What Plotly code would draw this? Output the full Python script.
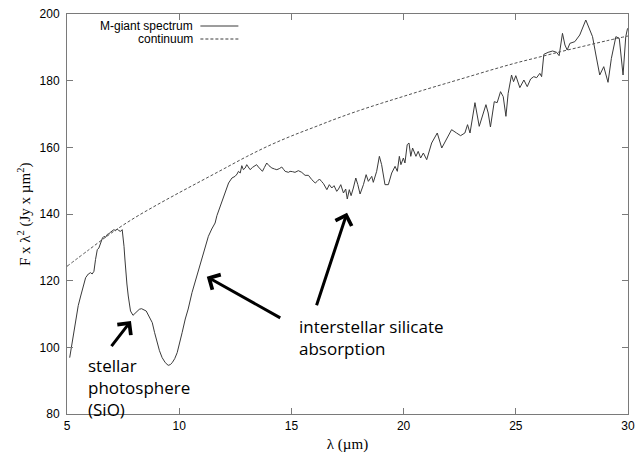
import plotly.graph_objects as go

# M-giant spectrum
wavelength = [
    5.12, 5.25, 5.38, 5.5, 5.61, 5.72, 5.83, 5.95, 6.05, 6.12, 6.2, 6.27, 6.35, 6.42,
    6.5, 6.58, 6.65, 6.72, 6.8, 6.87, 6.95, 7.02, 7.09, 7.16, 7.24, 7.31, 7.39, 7.46,
    7.5, 7.54, 7.58, 7.61, 7.67, 7.73, 7.78, 7.83, 7.94, 8.03, 8.13, 8.22, 8.32, 8.42,
    8.53, 8.6, 8.68, 8.8, 8.9, 9.02, 9.12, 9.24, 9.38, 9.51, 9.6, 9.69, 9.8, 9.91,
    10.02, 10.13, 10.27, 10.4, 10.57, 10.72, 10.86, 11.0, 11.08, 11.2, 11.3, 11.45,
    11.6, 11.68, 11.75, 11.85, 11.97, 12.1, 12.2, 12.35, 12.49, 12.58, 12.64, 12.72,
    12.79, 12.86, 12.94, 13.01, 13.09, 13.16, 13.27, 13.38, 13.45, 13.53, 13.62, 13.71,
    13.8, 13.9, 14.0, 14.13, 14.25, 14.35, 14.46, 14.57, 14.65, 14.72, 14.87, 14.94,
    15.05, 15.16, 15.31, 15.46, 15.61, 15.76, 15.91, 16.06, 16.15, 16.25, 16.34, 16.43,
    16.58, 16.69, 16.8, 16.9, 17.02, 17.1, 17.2, 17.32, 17.42, 17.49, 17.58, 17.66,
    17.76, 17.87, 17.96, 18.06, 18.21, 18.33, 18.43, 18.58, 18.65, 18.8, 18.92, 19.02,
    19.17, 19.32, 19.47, 19.62, 19.72, 19.81, 19.88, 19.99, 20.06, 20.16, 20.24, 20.32,
    20.4, 20.55, 20.65, 20.76, 20.88, 21.03, 21.25, 21.5, 21.7, 21.92, 22.14, 22.36,
    22.54, 22.73, 22.85, 22.96, 23.08, 23.18, 23.37, 23.55, 23.67, 23.77, 23.87, 24.04,
    24.17, 24.32, 24.44, 24.56, 24.66, 24.81, 24.9, 25.0, 25.18, 25.36, 25.51, 25.66,
    25.8, 25.93, 26.07, 26.15, 26.25, 26.44, 26.64, 26.82, 26.93, 27.08, 27.19, 27.29,
    27.41, 27.63, 27.85, 28.12, 28.27, 28.42, 28.57, 28.74, 28.92, 29.11, 29.26, 29.46,
    29.61, 29.78, 29.9, 29.98,
]
flux = [
    96.9, 102.0, 108.4, 112.5, 115.4, 118.5, 120.9, 122.0, 122.4, 122.0, 122.8, 126.3,
    129.3, 129.8, 131.3, 132.8, 133.3, 133.0, 133.9, 134.1, 134.6, 134.9, 135.3, 135.0,
    135.5, 135.0, 134.8, 135.3, 133.5, 130.3, 126.5, 123.4, 119.0, 115.4, 112.8, 110.9,
    109.6, 110.2, 110.9, 111.4, 111.6, 111.3, 110.9, 110.0, 108.9, 107.4, 104.5, 101.4,
    99.0, 96.9, 95.4, 94.6, 94.8, 95.4, 96.6, 98.4, 101.0, 104.4, 108.5, 111.5, 116.4,
    120.0, 123.4, 126.5, 128.4, 131.0, 133.3, 135.5, 137.3, 139.5, 140.8, 142.5, 144.8,
    147.5, 149.3, 150.8, 151.3, 152.0, 152.8, 152.3, 154.5, 153.3, 153.8, 154.8, 153.9,
    153.3, 154.0, 154.5, 154.8, 154.1, 153.4, 152.8, 154.0, 155.3, 154.5, 153.8, 153.5,
    153.3, 153.6, 154.1, 153.4, 152.8, 152.5, 152.8, 152.7, 152.5, 153.0, 152.5, 151.6,
    151.6, 150.3, 149.3, 149.8, 150.5, 149.8, 149.1, 147.3, 148.8, 147.8, 148.5, 146.8,
    147.5, 148.8, 146.3, 147.5, 144.5, 147.3, 145.5, 147.8, 150.8, 148.8, 146.0, 148.8,
    151.8, 149.8, 151.3, 149.5, 152.8, 157.3, 154.8, 148.8, 148.8, 152.3, 154.3, 152.8,
    157.3, 154.8, 156.8, 155.3, 160.8, 161.3, 157.3, 159.8, 157.3, 158.8, 156.8, 158.3,
    156.3, 161.3, 164.3, 159.8, 162.8, 165.3, 164.3, 163.5, 164.3, 166.8, 164.3, 168.8,
    173.4, 166.3, 170.3, 172.8, 170.3, 166.1, 173.7, 173.4, 176.7, 175.2, 169.3, 176.2,
    181.7, 179.7, 181.5, 177.9, 180.2, 178.2, 180.5, 181.2, 180.9, 182.2, 181.2, 187.9,
    188.5, 188.9, 188.5, 187.5, 194.2, 190.7, 189.2, 191.2, 191.7, 193.7, 198.2, 195.7,
    193.2, 187.7, 181.7, 184.2, 179.5, 186.7, 193.2, 192.7, 181.7, 193.2, 195.7,
]

# continuum, read every 1 micron
cont_wavelength = [5, 6, 7, 8, 9, 10, 11, 12, 13, 14, 15, 16, 17, 18, 19, 20, 21, 22,
                   23, 24, 25, 26, 27, 28, 29, 30]
cont_flux = [124.3, 129.4, 134.4, 138.8, 142.7, 146.4, 150.0, 153.6, 157.2, 160.5,
             163.4, 166.0, 168.6, 171.0, 173.2, 175.3, 177.4, 179.4, 181.4, 183.4,
             185.3, 187.0, 188.7, 190.3, 191.9, 193.4]

x_ticks = [5, 10, 15, 20, 25, 30]
y_ticks = [80, 100, 120, 140, 160, 180, 200]

frame_color = "#7a7a7a"
label_font = dict(family="Liberation Sans, Arial, sans-serif", size=12, color="#000000")
serif_font = dict(family="Liberation Serif, Times New Roman, serif", size=15, color="#000000")
note_font = dict(family="Open Sans, sans-serif", size=17, color="#000000")

fig = go.Figure()

fig.add_trace(
    go.Scatter(
        x=wavelength,
        y=flux,
        mode="lines",
        name="M-giant spectrum",
        line=dict(color="#3a3a3a", width=1),
    )
)
fig.add_trace(
    go.Scatter(
        x=cont_wavelength,
        y=cont_flux,
        mode="lines",
        name="continuum",
        line=dict(color="#505050", width=1, dash="3px,2px", shape="spline"),
    )
)

# gnuplot style key: text on the left, line sample on the right
legend_rows = [("M-giant spectrum", "solid", 0.97), ("continuum", "3px,2px", 0.9375)]
for text, dash, ypos in legend_rows:
    fig.add_annotation(
        text=text, xref="paper", yref="paper", x=0.2286, y=ypos,
        xanchor="right", yanchor="middle", showarrow=False, font=label_font,
    )
    fig.add_shape(
        type="line", xref="paper", yref="paper", x0=0.2378, x1=0.3055, y0=ypos, y1=ypos,
        line=dict(color="#3a3a3a", width=1, dash=dash),
    )

# arrows and notes
arrows = [
    (7.85, 107.9, 6.93, 99.9),
    (11.23, 121.2, 14.57, 108.6),
    (17.48, 140.4, 16.1, 112.2),
]
for x, y, ax, ay in arrows:
    fig.add_annotation(
        x=x, y=y, ax=ax, ay=ay, xref="x", yref="y", axref="x", ayref="y",
        text="", showarrow=True, arrowhead=4, arrowsize=1.1, arrowwidth=3,
        arrowcolor="#000000", standoff=0,
    )

fig.add_annotation(
    text="stellar<br>photosphere<br>(SiO)", x=5.86, y=98.6, xref="x", yref="y",
    xanchor="left", yanchor="top", align="left", showarrow=False, font=note_font,
)
fig.add_annotation(
    text="interstellar silicate<br>absorption", x=15.27, y=110.4, xref="x", yref="y",
    xanchor="left", yanchor="top", align="left", showarrow=False, font=note_font,
)

# y axis title placed by hand
fig.add_annotation(
    text="F x \u03bb<sup>2</sup> (Jy x \u00b5m<sup>2</sup>)", xref="paper", yref="paper",
    x=-0.097, y=0.5, textangle=-90, showarrow=False, font=serif_font,
)

fig.update_layout(
    width=636,
    height=455,
    margin=dict(l=67, r=8, t=14, b=41),
    paper_bgcolor="white",
    plot_bgcolor="white",
    showlegend=False,
    xaxis=dict(
        range=[5, 30],
        tickvals=x_ticks,
        ticks="inside",
        ticklen=6,
        tickcolor=frame_color,
        showline=True,
        linecolor=frame_color,
        linewidth=1,
        mirror="ticks",
        showgrid=False,
        zeroline=False,
        automargin=False,
        tickfont=label_font,
        ticklabelstandoff=1,
        title=dict(text="\u03bb (\u00b5m)", font=serif_font, standoff=6),
    ),
    yaxis=dict(
        range=[80, 200],
        tickvals=y_ticks,
        ticks="inside",
        ticklen=6,
        tickcolor=frame_color,
        showline=True,
        linecolor=frame_color,
        linewidth=1,
        mirror="ticks",
        showgrid=False,
        zeroline=False,
        automargin=False,
        tickfont=label_font,
        ticklabelstandoff=4,
    ),
)

# drop the default page margin so the figure fills the window exactly
fig.write_html(
    "out.html",
    config={"displayModeBar": False},
    post_script="document.body.style.margin = '0';",
)
